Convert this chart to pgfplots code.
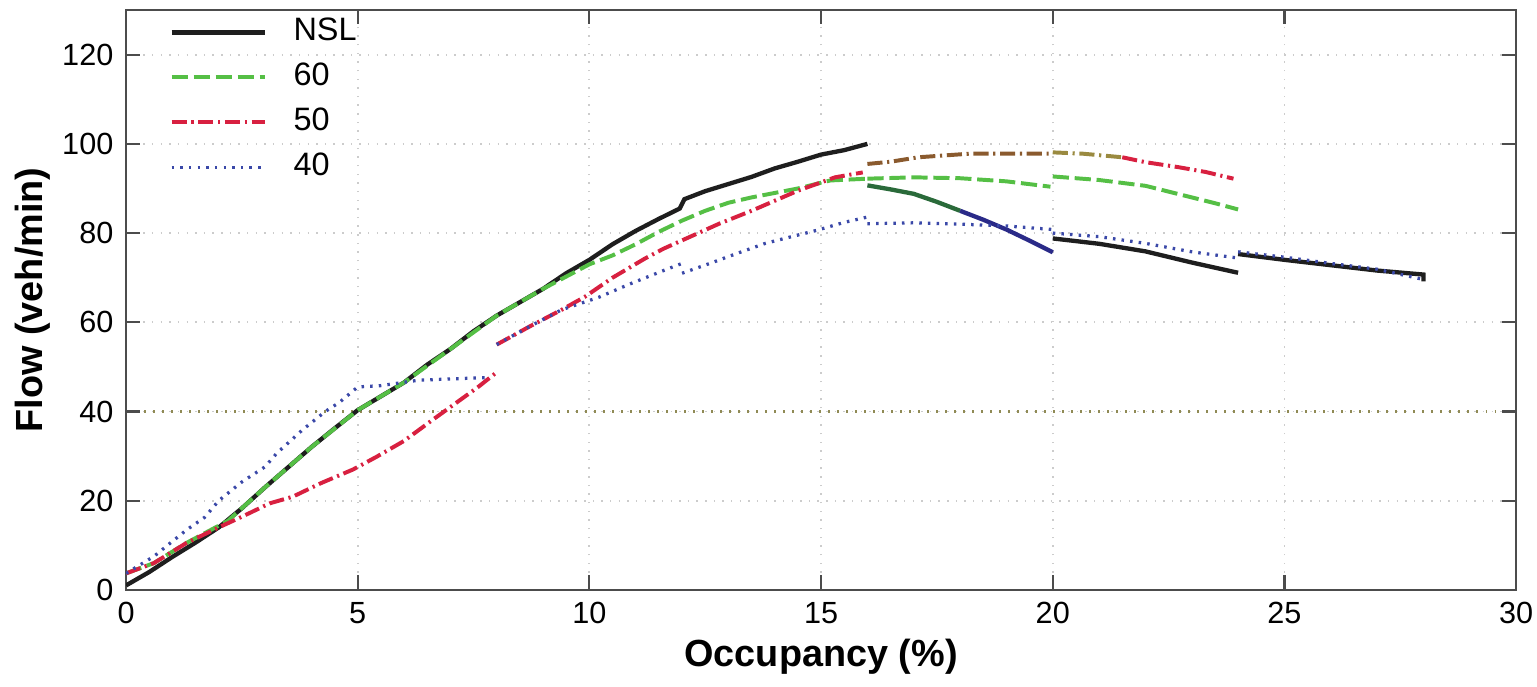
\documentclass[border=0pt]{standalone}
\usepackage{fontspec}
\setmainfont{Liberation Sans}
\usepackage{pgfplots}
\pgfplotsset{compat=1.18}

\definecolor{nsl}{HTML}{1E1E1E}
\definecolor{sixty}{HTML}{55BF45}
\definecolor{fifty}{HTML}{D82040}
\definecolor{forty}{HTML}{3A48A8}
\definecolor{brn}{HTML}{8A5A2E}
\definecolor{olv}{HTML}{9A8A40}
\definecolor{dkgrn}{HTML}{2A6A3A}
\definecolor{navy}{HTML}{2A2A88}

\tikzset{
  lnsl/.style={color=nsl, line width=1.2pt},
  l60/.style={color=sixty, line width=1.1pt, dash pattern=on 4.5pt off 1.6pt},
  l50/.style={color=fifty, line width=1.1pt, dash pattern=on 4.2pt off 1.3pt on 0.6pt off 1.3pt},
  l40/.style={color=forty, line width=0.9pt, dash pattern=on 0.7pt off 1.7pt},
}

\begin{document}
\begin{tikzpicture}
\begin{axis}[
  name=ax, scale only axis, width=386pt, height=161pt,
  xmin=0, xmax=30, ymin=0, ymax=130,
  xtick={0,5,...,30}, ytick={0,20,...,120},
  tick align=inside, major tick length=4pt,
  grid=major, grid style={gray!40, dotted, line width=0.5pt},
  extra y ticks={40}, extra y tick labels={},
  extra y tick style={grid=major, major grid style={gray!60!olive, dotted, line width=0.8pt}},
  axis line style={gray!60!black, line width=0.7pt},
  tick style={gray!60!black, line width=0.6pt},
  /pgf/number format/assume math mode=true,
  tick label style={font=\fontsize{8.5}{10}\selectfont},
  label style={font=\fontsize{10.5}{12}\selectfont\bfseries},
  xlabel={Occupancy (\%)}, ylabel={Flow (veh/min)},
  xlabel style={at={(axis description cs:0.5,-0.115)}, anchor=center},
  ylabel style={at={(axis description cs:-0.067,0.5)}, anchor=center},
  legend style={draw=none, fill=none, at={(axis description cs:0.023,1.014)}, anchor=north west,
    font=\fontsize{9}{11}\selectfont,
    nodes={inner sep=1.75pt, text height=6.8pt, text depth=2.2pt},
    /tikz/every odd column/.append style={column sep=5.5pt}},
  legend image code/.code={\draw[#1] (0pt,0pt) -- (26pt,0pt);},
  legend cell align=left,
]
% NSL
\addplot[lnsl] coordinates {(0,1)(0.5,4)(1,7.4)(1.5,10.6)(2,14)(2.5,18.3)(3,23)(3.5,27.5)(4,32)
  (4.5,36.2)(5,40.3)(5.5,43.4)(6,46.5)(6.5,50.5)(7,54)(7.5,58)(8,61.5)(8.5,64.5)(9,67.5)
  (9.5,71)(10,74)(10.5,77.5)(11,80.5)(11.5,83.2)(11.95,85.5)(12.05,87.6)(12.5,89.4)(13,91)
  (13.5,92.6)(14,94.5)(14.5,96)(15,97.6)(15.5,98.6)(16,100)};
\addlegendentry{NSL}
\addplot[lnsl, color=dkgrn, forget plot] coordinates {(16,90.7)(16.5,89.8)(17,88.8)(17.5,87)(18,85)};
\addplot[lnsl, color=navy, forget plot] coordinates {(18,85)(18.5,83)(19,80.8)(19.5,78.3)(20,75.7)};
\addplot[lnsl, forget plot] coordinates {(20,78.8)(21,77.6)(22,75.9)(23,73.4)(24,71.1)};
\addplot[lnsl, forget plot] coordinates {(24,75.3)(25,74)(26,72.8)(27,71.6)(28,70.7)(28,69.2)};
% 60
\addplot[l60] coordinates {(0,3.7)(0.6,6)(1.3,10.5)(2.2,15.5)(3,23)(4,32)(5,40.3)(6,46.5)(7,54)
  (8,61.5)(9,67.5)(9.6,70.8)(10,73)(10.5,75)(11,77.5)(11.5,80.3)(12,82.8)(12.5,85)(13,86.8)
  (13.5,88)(14,89)(14.5,90)(15.2,91.8)(16,92.2)};
\addlegendentry{60}
\addplot[l60, forget plot] coordinates {(16,92.2)(17,92.5)(18,92.3)(19,91.6)(19.95,90.4)};
\addplot[l60, forget plot] coordinates {(20,92.7)(21,91.9)(22,90.6)(22.5,89.3)(23,88)(23.5,86.7)(24,85.3)};
% 50
\addplot[l50] coordinates {(0,3.7)(0.6,6)(1.3,10.5)(2,14)(2.5,16.4)(3.1,19.4)(3.6,20.9)(4.2,23.9)
  (4.9,27)(5.4,29.8)(6,33.4)(6.6,38)(7.2,42.5)(7.6,45.5)(8,48.8)};
\addlegendentry{50}
\addplot[l50, forget plot] coordinates {(8,55)(8.7,59)(9.4,62.8)(9.9,65.7)(10.5,70)(11.2,74.3)
  (11.6,76.5)(12.2,79.3)(12.8,82.1)(13.5,85)(14.5,89.5)(15.3,92.5)(15.9,93.6)};
\addplot[l50, color=brn, forget plot] coordinates {(16,95.5)(16.5,96)(17.1,97)(18.2,97.8)(19.3,97.8)(20,97.8)};
\addplot[l50, color=olv, forget plot] coordinates {(20,98.1)(20.65,97.8)(21.5,97)};
\addplot[l50, forget plot] coordinates {(21.5,97)(22,95.9)(22.7,94.8)(23.3,93.7)(23.9,92.2)};
% 40
\addplot[l40] coordinates {(0,3.7)(0.6,7.5)(1.3,13.4)(1.7,16.3)(2,20)(2.5,24.2)(3,27.6)(3.25,30.6)
  (3.8,35.8)(4.3,40)(4.6,42)(5,45.5)(5.5,45.8)(6.3,47)(7,47.3)(7.8,47.6)};
\addlegendentry{40}
\addplot[l40, forget plot] coordinates {(8,55)(8.7,59)(9.4,62.8)(10.2,65.6)(10.9,68.7)(11.6,71.6)(12,73.2)};
\addplot[l40, forget plot] coordinates {(12,71)(12.6,73.2)(13.2,75.5)(13.8,77.7)(14.4,79.3)(14.9,80.6)(15.5,82.4)(16,83.6)};
\addplot[l40, forget plot] coordinates {(16,82.1)(17,82.3)(18,82)(19,81.6)(20,80.8)};
\addplot[l40, forget plot] coordinates {(20,80)(21,79.2)(22,77.7)(23,75.8)(24,74.4)};
\addplot[l40, forget plot] coordinates {(24,75.8)(25,74.6)(26,73.2)(27,71.9)(28,69.6)};
\end{axis}
\pgfresetboundingbox
\path[use as bounding box] ([xshift=-35pt,yshift=-26.7pt]ax.south west) rectangle ([xshift=5.8pt,yshift=2.8pt]ax.north east);
\end{tikzpicture}
\end{document}
